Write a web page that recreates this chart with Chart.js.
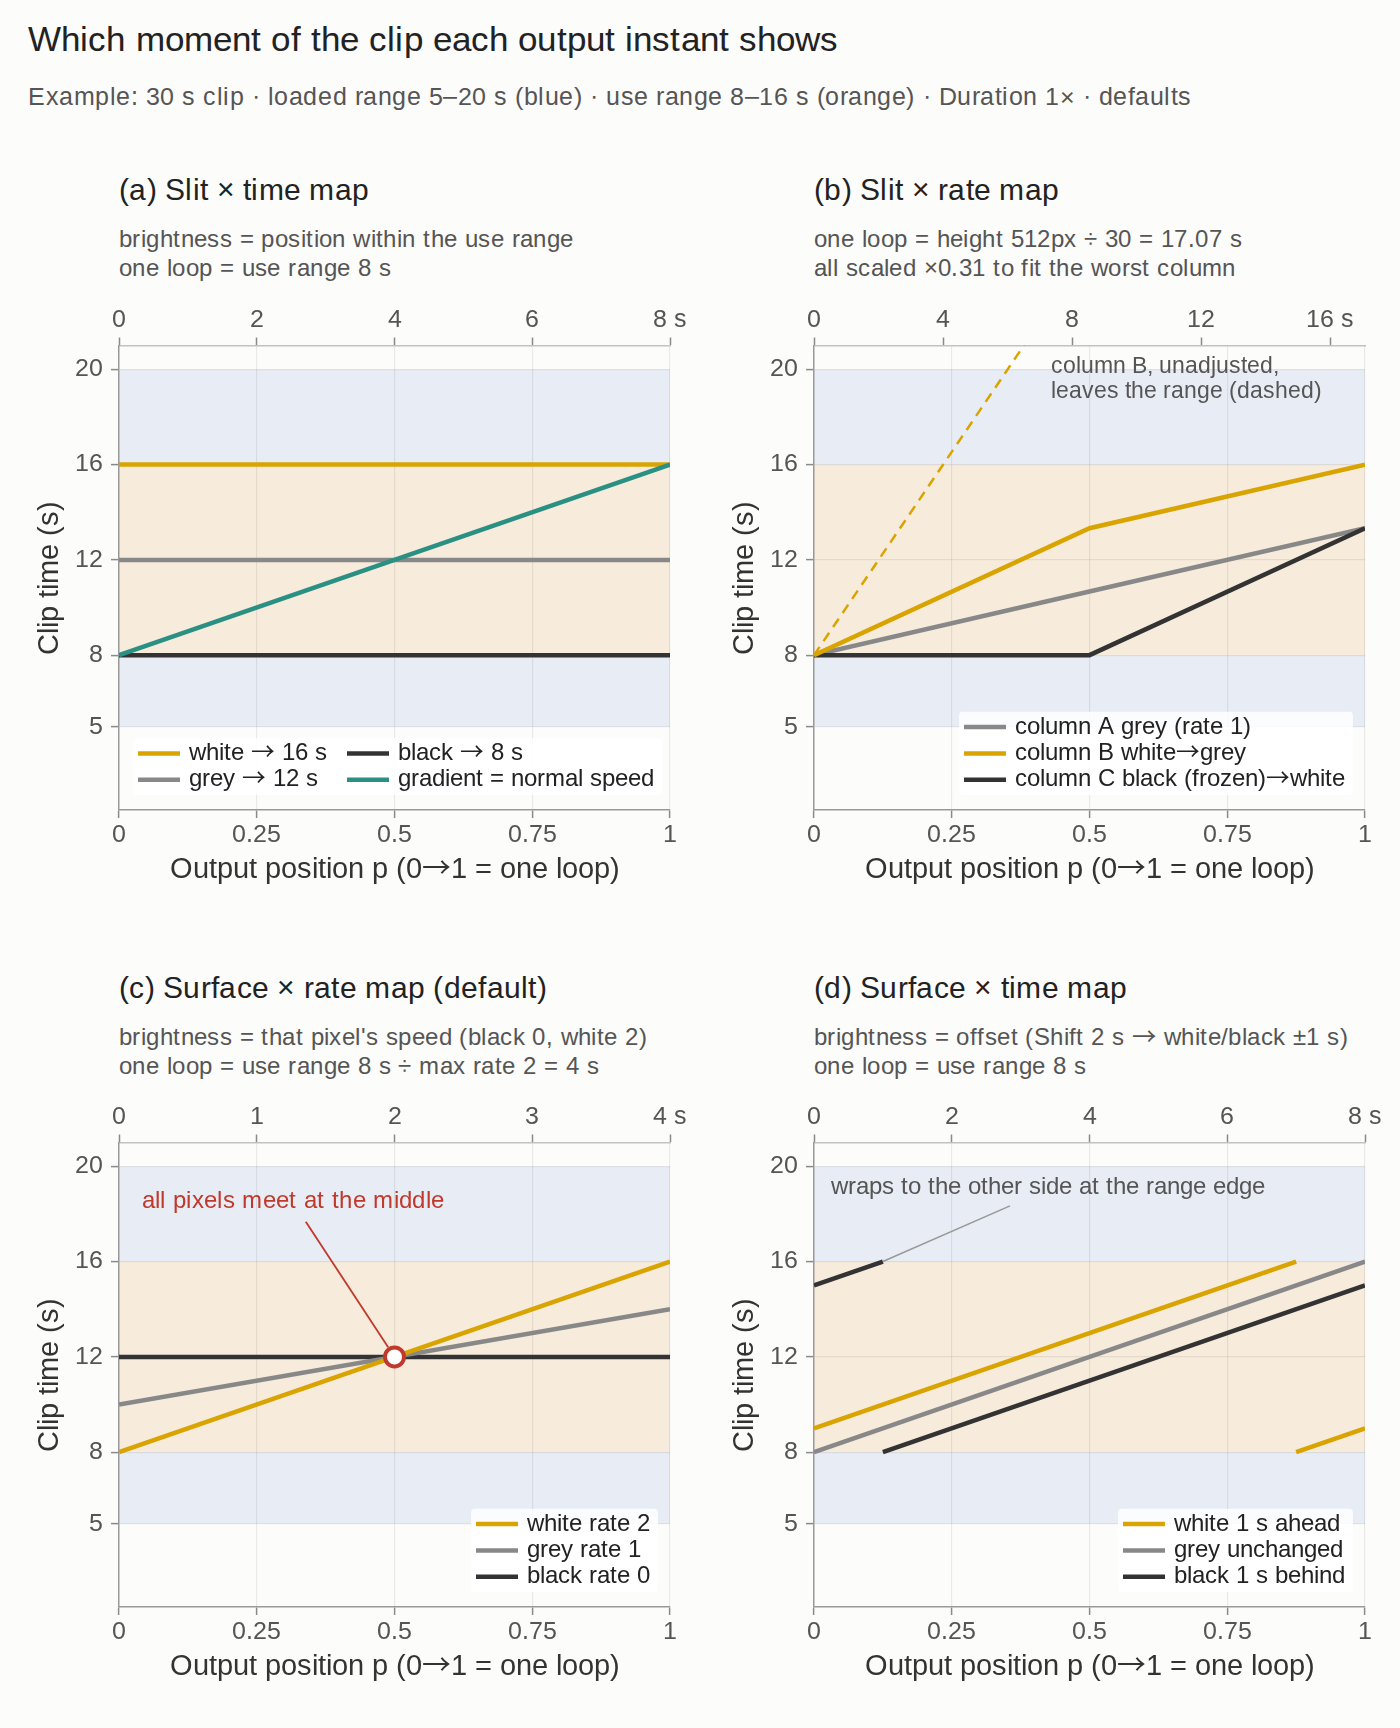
<!DOCTYPE html>
<html>
<head>
<meta charset="utf-8">
<script src="https://cdn.jsdelivr.net/npm/chart.js@4.4.1/dist/chart.umd.min.js"></script>
<style>
@font-face{font-family:'Lbl';src:local('Liberation Sans'),local('LiberationSans'),local('LiberationSans-Regular');unicode-range:U+0000-2191,U+2193-FFFF;}
@font-face{font-family:'Lbl';src:local('Noto Sans CJK SC'),local('Noto Sans CJK SC Regular'),local('NotoSansCJKsc-Regular'),local('NotoSansCJKSC-Regular'),local('DejaVu Sans');unicode-range:U+2192;}
html,body{margin:0;padding:0;background:#fcfcfb;}
body{width:1400px;height:1728px;position:relative;overflow:hidden;font-family:Lbl,'Liberation Sans',Arial,sans-serif;}
.t{position:absolute;white-space:nowrap;}
#title{left:28px;top:18.6px;font-size:35.25px;line-height:40px;color:#222;letter-spacing:0.11px;}
#sub{left:28px;top:81.9px;font-size:25px;line-height:28px;color:#555;letter-spacing:0.52px;}
.ptitle{font-size:30.2px;line-height:36px;color:#222;letter-spacing:0.28px;}
.psub{font-size:24.3px;line-height:28.7px;color:#555;letter-spacing:0.42px;}
.panel{position:absolute;width:700px;height:610px;}
</style>
</head>
<body>
<div id="title" class="t">Which moment of the clip each output instant shows</div>
<div id="sub" class="t">Example: 30 s clip · loaded range 5–20 s (blue) · use range 8–16 s (orange) · Duration 1× · defaults</div>

<div class="t ptitle" style="left:119px;top:171.6px;">(a) Slit × time map</div>
<div class="t psub" style="left:119px;top:224.9px;">brightness = position within the use range<br>one loop = use range 8 s</div>
<div class="t ptitle" style="left:814px;top:171.6px;">(b) Slit × rate map</div>
<div class="t psub" style="left:814px;top:224.9px;">one loop = height 512px ÷ 30 = 17.07 s<br>all scaled ×0.31 to fit the worst column</div>
<div class="t ptitle" style="left:119px;top:969.8px;">(c) Surface × rate map (default)</div>
<div class="t psub" style="left:119px;top:1023px;">brightness = that pixel's speed (black 0, white 2)<br>one loop = use range 8 s ÷ max rate 2 = 4 s</div>
<div class="t ptitle" style="left:814px;top:969.8px;">(d) Surface × time map</div>
<div class="t psub" style="left:814px;top:1023px;">brightness = offset (Shift 2 s → white/black ±1 s)<br>one loop = use range 8 s</div>

<div class="panel" style="left:0;top:290px;"><canvas id="ca" width="700" height="610"></canvas></div>
<div class="panel" style="left:700px;top:290px;"><canvas id="cb" width="700" height="610"></canvas></div>
<div class="panel" style="left:0;top:1087px;"><canvas id="cc" width="700" height="610"></canvas></div>
<div class="panel" style="left:700px;top:1087px;"><canvas id="cd" width="700" height="610"></canvas></div>

<script>
// ---------------- data ----------------
const xTicks = [0, 0.25, 0.5, 0.75, 1];
const yTicks = [5, 8, 12, 16, 20];
const yRange = [1.5, 21];
const loadedRange = [5, 20];
const useRange = [8, 16];

// (a) Slit x time
const aP = [0, 1];
const aWhite = [16, 16];
const aGrey = [12, 12];
const aBlack = [8, 8];
const aGradient = [8, 16];
const aTop = [0, 2, 4, 6, 8];
const aTopMax = 8;

// (b) Slit x rate
const bP = [0, 0.5, 1];
const bGreyA = [8, 10.67, 13.33];
const bWhiteB = [8, 13.33, 16];
const bBlackC = [8, 8, 13.33];
const bDashedP = [0, 0.5];
const bDashed = [8, 25.07];
const bTop = [0, 4, 8, 12, 16];
const bTopMax = 17.07;

// (c) Surface x rate
const cP = [0, 1];
const cWhite = [8, 16];
const cGrey = [10, 14];
const cBlack = [12, 12];
const cMeetP = [0.5];
const cMeet = [12];
const cTop = [0, 1, 2, 3, 4];
const cTopMax = 4;

// (d) Surface x time
const dWhiteP1 = [0, 0.875], dWhite1 = [9, 16];
const dWhiteP2 = [0.875, 1], dWhite2 = [8, 9];
const dGreyP = [0, 1], dGrey = [8, 16];
const dBlackP1 = [0, 0.125], dBlack1 = [15, 16];
const dBlackP2 = [0.125, 1], dBlack2 = [8, 15];
const dTop = [0, 2, 4, 6, 8];
const dTopMax = 8;

// ---------------- styles ----------------
const COL = {white:'#d9a400', grey:'#888888', black:'#333333', teal:'#2a9083', red:'#c0392b',
             blue:'#e8edf5', orange:'#f7ebdc'};
const FONT = "Lbl, 'Liberation Sans', Arial, sans-serif";
Chart.defaults.font.family = FONT;
Chart.defaults.animation = false;

const zip = (ps, ys) => ps.map((p, i) => ({x: p, y: ys[i]}));

function line(data, color, extra) {
  return Object.assign({data, borderColor: color, backgroundColor: color, borderWidth: 4.5,
    pointRadius: 0, pointHoverRadius: 0, fill: false, tension: 0, borderCapStyle: 'butt'}, extra || {});
}
// later datasets are drawn on top
const stackOrder = ds => ds.map((d, i) => Object.assign(d, {order: ds.length - i}));

const bandsPlugin = {
  id: 'bands',
  beforeDraw(chart) {
    const {ctx, chartArea: a, scales: {y}} = chart;
    ctx.save();
    [[loadedRange, COL.blue], [useRange, COL.orange]].forEach(([r, c]) => {
      const y1 = y.getPixelForValue(r[1]), y2 = y.getPixelForValue(r[0]);
      ctx.fillStyle = c;
      ctx.fillRect(a.left, y1, a.right - a.left, y2 - y1);
    });
    ctx.restore();
  }
};

const extrasPlugin = {
  id: 'extras',
  afterDatasetsDraw(chart, args, opts) {
    const {ctx, chartArea: a, scales: {x, y}} = chart;
    ctx.save();
    (opts.lines || []).forEach(l => {
      const x1 = x.getPixelForValue(l.from[0]), y1 = y.getPixelForValue(l.from[1]);
      let x2 = x.getPixelForValue(l.to[0]), y2 = y.getPixelForValue(l.to[1]);
      if (l.shrinkEnd) {
        const dx = x2 - x1, dy = y2 - y1, d = Math.hypot(dx, dy);
        x2 -= dx / d * l.shrinkEnd; y2 -= dy / d * l.shrinkEnd;
      }
      ctx.strokeStyle = l.color; ctx.lineWidth = l.width;
      ctx.beginPath(); ctx.moveTo(x1, y1); ctx.lineTo(x2, y2); ctx.stroke();
    });
    (opts.texts || []).forEach(t => {
      ctx.font = t.size + 'px ' + FONT;
      if ('letterSpacing' in ctx) ctx.letterSpacing = (t.ls || 0) + 'px';
      ctx.fillStyle = t.color; ctx.textAlign = 'left'; ctx.textBaseline = 'middle';
      const px = x.getPixelForValue(t.at[0]);
      t.lines.forEach((s, i) => ctx.fillText(s, px, y.getPixelForValue(t.at[1]) + i * t.lh));
      if ('letterSpacing' in ctx) ctx.letterSpacing = '0px';
    });
    const lg = opts.legend;
    if (lg) {
      const rowH = 26.4, sample = 42, gap = 9, padL = 5, padR = 8, colGap = 20;
      ctx.font = '23.7px ' + FONT;
      const nrows = Math.ceil(lg.items.length / lg.cols);
      const colW = [];
      for (let c = 0; c < lg.cols; c++) {
        let m = 0;
        for (let r = 0; r < nrows; r++) {
          const it = lg.items[c * nrows + r];
          if (it) m = Math.max(m, ctx.measureText(it.label).width);
        }
        colW.push(sample + gap + m);
      }
      const boxW = padL + colW.reduce((s, v) => s + v, 0) + colGap * (lg.cols - 1) + padR;
      const boxH = nrows * rowH + 4;
      const bottom = a.bottom - 15;
      const left = lg.corner === 'bl' ? a.left + 14 : a.right - 12 - boxW;
      const top = bottom - boxH;
      ctx.fillStyle = 'rgba(255,255,255,0.82)';
      ctx.beginPath();
      ctx.roundRect(left, top, boxW, boxH, 4);
      ctx.fill();
      let cx = left + padL;
      for (let c = 0; c < lg.cols; c++) {
        for (let r = 0; r < nrows; r++) {
          const it = lg.items[c * nrows + r];
          if (!it) continue;
          const cy = top + 2 + rowH / 2 + r * rowH;
          ctx.strokeStyle = it.color; ctx.lineWidth = 4.5;
          ctx.beginPath(); ctx.moveTo(cx, cy); ctx.lineTo(cx + sample, cy); ctx.stroke();
          ctx.fillStyle = '#222'; ctx.textAlign = 'left'; ctx.textBaseline = 'middle';
          ctx.fillText(it.label, cx + sample + gap, cy);
        }
        cx += colW[c] + colGap;
      }
    }
    ctx.restore();
  }
};

function makeChart(id, datasets, topTicks, topMax, yAxisWidth, extras) {
  const gridCol = 'rgba(0,0,0,0.075)';
  return new Chart(document.getElementById(id), {
    type: 'line',
    data: {datasets: stackOrder(datasets)},
    options: {
      responsive: false,
      animation: false,
      events: [],
      layout: {padding: {left: 0, top: 0, bottom: 0, right: 700 - yAxisWidth - 551}},
      plugins: {legend: {display: false}, tooltip: {enabled: false}, extras},
      scales: {
        x: {
          type: 'linear', position: 'bottom', min: 0, max: 1,
          grid: {color: gridCol, lineWidth: 1.2, tickLength: 8, tickColor: '#8a8a8a', tickWidth: 1.5},
          border: {color: '#999', width: 1.5},
          ticks: {font: {size: 25}, color: '#555', padding: 2, maxRotation: 0, autoSkip: false,
                  callback: v => String(v)},
          title: {display: true, text: 'Output position p (0→1 = one loop)', font: {size: 28.8}, color: '#333',
                  padding: {top: 0, bottom: 13.1}},
          afterBuildTicks: s => { s.ticks = xTicks.map(v => ({value: v})); },
          afterFit: s => { s.height = 90; }
        },
        x2: {
          type: 'linear', position: 'top', min: 0, max: topMax,
          grid: {drawOnChartArea: false, tickLength: 8, tickColor: '#8a8a8a', tickWidth: 1.5, color: '#8a8a8a'},
          border: {color: '#c2c2c2', width: 1.5},
          ticks: {font: {size: 25}, color: '#555', padding: 2.8, maxRotation: 0, autoSkip: false, includeBounds: false,
                  callback: v => v === topTicks[topTicks.length - 1] ? v + ' s' : String(v)},
          afterBuildTicks: s => { s.ticks = topTicks.map(v => ({value: v})); },
          afterFit: s => { s.height = 55.5; }
        },
        y: {
          type: 'linear', position: 'left', min: yRange[0], max: yRange[1],
          grid: {color: gridCol, lineWidth: 1.2, tickLength: 8, tickColor: '#8a8a8a', tickWidth: 1.5},
          border: {color: '#999', width: 1.5},
          ticks: {font: {size: 25}, color: '#555', padding: 8.3, autoSkip: false, callback: v => String(v)},
          title: {display: true, text: 'Clip time (s)', font: {size: 28.8}, color: '#333',
                  padding: {top: yAxisWidth - 69.4 - 17.3, bottom: 0}},
          afterBuildTicks: s => { s.ticks = yTicks.map(v => ({value: v})); },
          afterFit: s => { s.width = yAxisWidth; }
        }
      }
    },
    plugins: [bandsPlugin, extrasPlugin]
  });
}

function buildAll() {
  const charts = [];
  charts.push(makeChart('ca', [
    line(zip(aP, aWhite), COL.white),
    line(zip(aP, aGrey), COL.grey),
    line(zip(aP, aBlack), COL.black),
    line(zip(aP, aGradient), COL.teal)
  ], aTop, aTopMax, 119, {
    legend: {cols: 2, corner: 'bl', items: [
      {label: 'white → 16 s', color: COL.white},
      {label: 'grey → 12 s', color: COL.grey},
      {label: 'black → 8 s', color: COL.black},
      {label: 'gradient = normal speed', color: COL.teal}
    ]}
  }));
  charts.push(makeChart('cb', [
    line(zip(bP, bGreyA), COL.grey),
    line(zip(bP, bBlackC), COL.black),
    line(zip(bDashedP, bDashed), COL.white, {borderWidth: 2.5, borderDash: [10, 7]}),
    line(zip(bP, bWhiteB), COL.white)
  ], bTop, bTopMax, 114, {
    texts: [{at: [0.4294, 20.1], lh: 24.3, size: 23.2, color: '#555',
             lines: ['column B, unadjusted,', 'leaves the range (dashed)']}],
    legend: {cols: 1, corner: 'br', items: [
      {label: 'column A grey (rate 1)', color: COL.grey},
      {label: 'column B white→grey', color: COL.white},
      {label: 'column C black (frozen)→white', color: COL.black}
    ]}
  }));
  charts.push(makeChart('cc', [
    line(zip(cP, cBlack), COL.black),
    line(zip(cP, cGrey), COL.grey),
    line(zip(cP, cWhite), COL.white),
    {data: zip(cMeetP, cMeet), showLine: false, pointRadius: 9.5, pointBorderWidth: 4,
     pointBackgroundColor: '#ffffff', pointBorderColor: COL.red, pointHoverRadius: 9.5}
  ], cTop, cTopMax, 119, {
    lines: [{from: [0.339, 17.67], to: [cMeetP[0], cMeet[0]], shrinkEnd: 11.5, color: COL.red, width: 1.8}],
    texts: [{at: [0.041, 18.53], lh: 0, size: 24.3, ls: 0.34, color: COL.red, lines: ['all pixels meet at the middle']}],
    legend: {cols: 1, corner: 'br', items: [
      {label: 'white rate 2', color: COL.white},
      {label: 'grey rate 1', color: COL.grey},
      {label: 'black rate 0', color: COL.black}
    ]}
  }));
  charts.push(makeChart('cd', [
    line(zip(dGreyP, dGrey), COL.grey),
    line(zip(dBlackP1, dBlack1), COL.black),
    line(zip(dBlackP2, dBlack2), COL.black),
    line(zip(dWhiteP1, dWhite1), COL.white),
    line(zip(dWhiteP2, dWhite2), COL.white)
  ], dTop, dTopMax, 114, {
    lines: [{from: [dBlackP1[1], dBlack1[1]], to: [0.3557, 18.34], color: '#999', width: 1.6}],
    texts: [{at: [0.0303, 19.09], lh: 0, size: 23.5, color: '#555', lines: ['wraps to the other side at the range edge']}],
    legend: {cols: 1, corner: 'br', items: [
      {label: 'white 1 s ahead', color: COL.white},
      {label: 'grey unchanged', color: COL.grey},
      {label: 'black 1 s behind', color: COL.black}
    ]}
  }));
  return charts;
}

const charts = buildAll();
if (document.fonts && document.fonts.load) {
  Promise.all([document.fonts.load('25px Lbl', 'a→'), document.fonts.ready])
    .then(() => charts.forEach(c => c.update('none')))
    .catch(() => {});
}
</script>
</body>
</html>
